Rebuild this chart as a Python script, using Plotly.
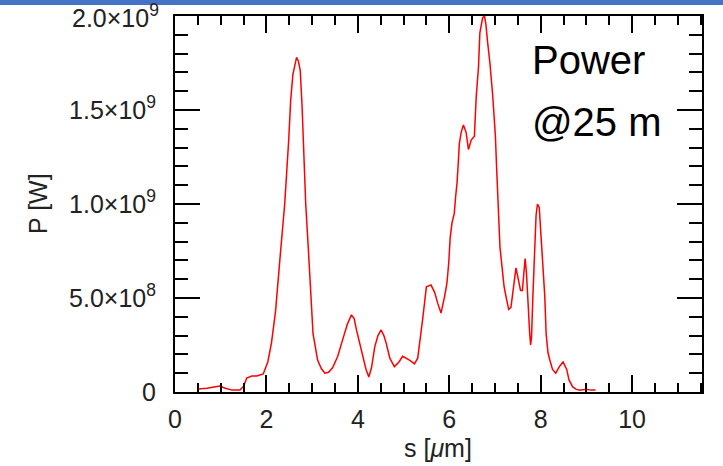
import plotly.graph_objects as go

# Data (s in µm, P in W)
s_um = [0.50, 0.70, 0.98, 1.10, 1.25, 1.42, 1.50, 1.57, 1.68, 1.79, 1.93, 2.03, 2.11, 2.20, 2.30,
        2.40, 2.49, 2.53, 2.58, 2.62, 2.66, 2.70, 2.74, 2.78, 2.81, 2.86, 2.92, 2.98, 3.02, 3.12,
        3.20, 3.28, 3.36, 3.45, 3.56, 3.67, 3.77, 3.86, 3.92, 3.97, 4.04, 4.11, 4.18, 4.24, 4.30,
        4.37, 4.44, 4.51, 4.57, 4.62, 4.70, 4.80, 4.90, 4.98, 5.13, 5.24, 5.31,
        5.42, 5.50, 5.60, 5.68, 5.75, 5.82, 5.90, 5.95, 5.99, 6.02, 6.06, 6.11, 6.14, 6.17, 6.20,
        6.22, 6.26, 6.31, 6.37, 6.42, 6.48, 6.55, 6.59, 6.64, 6.67, 6.73, 6.77, 6.80, 6.84, 6.89,
        6.95, 7.01, 7.04, 7.08, 7.11, 7.17, 7.20, 7.24, 7.30, 7.35, 7.39, 7.42, 7.46, 7.51, 7.56,
        7.60, 7.63, 7.66, 7.69, 7.73, 7.76, 7.78, 7.80, 7.83, 7.87, 7.90, 7.93, 7.97, 8.00, 8.04,
        8.09, 8.12, 8.16, 8.20, 8.26, 8.33, 8.41, 8.49, 8.57, 8.62, 8.70, 8.77, 8.85, 9.00, 9.10,
        9.20]
p_1e8 = [0.16, 0.20, 0.32, 0.20, 0.10, 0.10, 0.30, 0.74, 0.85, 0.85, 0.96, 1.6, 2.6, 4.3, 7.2,
         10.0, 13.5, 15.5, 16.9, 17.4, 17.8, 17.6, 17.1, 15.2, 13.0, 10.0, 7.5, 5.0, 3.1, 1.7,
         1.25, 1.0, 1.05, 1.3, 1.9, 2.8, 3.6, 4.1, 3.9, 3.3, 2.6, 1.9, 1.2, 0.8, 1.3,
         2.4, 3.0, 3.3, 3.0, 2.6, 1.8, 1.35, 1.6, 1.9, 1.7, 1.5, 1.8,
         3.9, 5.6, 5.7, 5.3, 4.7, 4.2, 5.1, 5.8, 6.9, 8.2, 9.0, 9.5, 10.4, 11.1, 12.3,
         13.2, 13.8, 14.2, 13.8, 12.9, 13.4, 13.6, 15.7, 17.3, 19.1, 19.9, 20.0, 19.6, 18.6, 17.5,
         15.8, 13.6, 11.7, 9.0, 7.7, 6.3, 5.6, 5.1, 4.4, 4.5, 5.3, 6.1, 6.6, 6.0, 5.4,
         5.4, 6.5, 7.1, 6.3, 4.2, 3.1, 2.5, 2.9, 5.1, 7.7, 9.4, 10.0, 9.8, 8.6, 6.9,
         5.1, 3.1, 2.1, 1.7, 1.2, 1.0, 1.35, 1.6, 1.2, 0.64, 0.27, 0.15, 0.10, 0.15, 0.10,
         0.10]
power_w = [v * 1e8 for v in p_1e8]

x_tickvals = [0, 2, 4, 6, 8, 10]
x_ticktext = ["0", "2", "4", "6", "8", "10"]
y_tickvals = [0, 5e8, 1e9, 1.5e9, 2e9]
y_ticktext = ["0", "5.0×10<sup>8</sup>", "1.0×10<sup>9</sup>", "1.5×10<sup>9</sup>", "2.0×10<sup>9</sup>"]

W, H = 723, 466
L, R, T, B = 175, 21, 16, 74
pw, ph = W - L - R, H - T - B

FONT = "Liberation Sans, Arial, sans-serif"
TICKFONT = dict(family=FONT, size=25, color="#222222")

fig = go.Figure()
fig.add_trace(go.Scatter(x=s_um, y=power_w, mode="lines",
                         line=dict(color="#ff0000", width=1.5), showlegend=False))

axis_common = dict(showline=True, linecolor="black", linewidth=2, mirror="ticks",
                   ticks="inside", tickcolor="black", tickwidth=1.5,
                   showgrid=False, zeroline=False, tickfont=TICKFONT)

fig.update_xaxes(range=[0, 11.53], tickvals=x_tickvals, ticktext=x_ticktext,
                 ticklen=17, ticklabelstandoff=4,
                 minor=dict(dtick=0.5, ticklen=9, tickwidth=1.5, tickcolor="black", ticks="inside"),
                 **axis_common)
fig.update_yaxes(range=[0, 2e9], tickvals=y_tickvals, ticktext=y_ticktext,
                 ticklen=25, ticklabelstandoff=12,
                 minor=dict(dtick=1e8, ticklen=13, tickwidth=1.5, tickcolor="black", ticks="inside"),
                 **axis_common)

def px(x):
    return (x - L) / pw

def py(y):
    return (H - B - y) / ph

annotations = [
    # top y tick label (plotly drops the label at the range edge, so draw it at the same value)
    dict(text=y_ticktext[-1], x=0, y=y_tickvals[-1], xref="paper", yref="y",
         xshift=-(12 + 3), showarrow=False, font=TICKFONT, xanchor="right", yanchor="middle",
         borderpad=0),
    dict(text="P [W]", x=px(38), y=py(204), xref="paper", yref="paper", textangle=-90,
         showarrow=False, font=TICKFONT, xanchor="center", yanchor="middle"),
    dict(text="s [<i>μ</i>m]", x=px(438), y=py(448), xref="paper", yref="paper",
         showarrow=False, font=TICKFONT, xanchor="center", yanchor="middle"),
    dict(text="Power", x=px(530), y=py(60), xref="paper", yref="paper",
         showarrow=False, font=dict(family=FONT, size=40, color="black"),
         xanchor="left", yanchor="middle"),
    dict(text="@25 m", x=px(530), y=py(122), xref="paper", yref="paper",
         showarrow=False, font=dict(family=FONT, size=40, color="black"),
         xanchor="left", yanchor="middle", bgcolor="white"),
]

shapes = [
    dict(type="rect", xref="paper", yref="paper", x0=px(0), x1=px(W), y0=py(5), y1=py(0),
         fillcolor="#4472C4", line=dict(width=0), layer="above"),
]

fig.update_layout(width=W, height=H, margin=dict(l=L, r=R, t=T, b=B),
                  paper_bgcolor="white", plot_bgcolor="white",
                  annotations=annotations, shapes=shapes)

fig.write_html("out.html")
